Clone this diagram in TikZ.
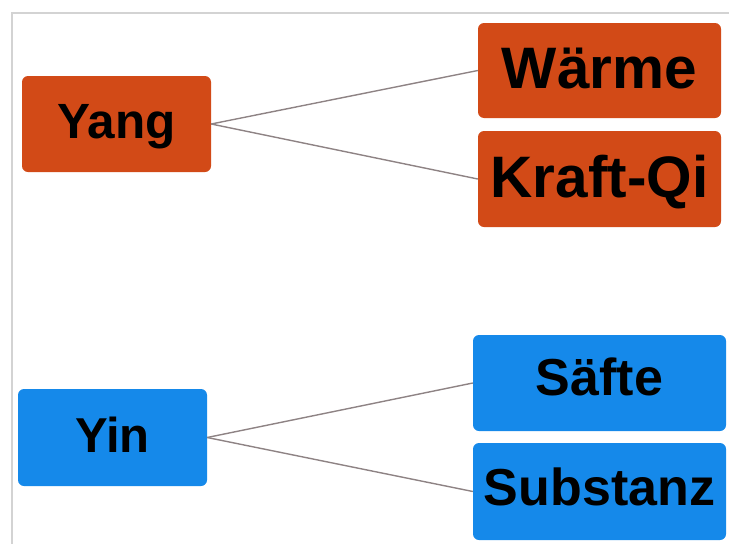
\documentclass[tikz,border=0pt]{standalone}
\usepackage{fontspec}
\setmainfont{Liberation Sans}
\definecolor{yangfill}{HTML}{D24A17}
\definecolor{yinfill}{HTML}{1589EA}
\definecolor{linkgray}{HTML}{8E8384}
\definecolor{framegray}{HTML}{D3D3D3}
\tikzset{
  card/.style={rectangle, rounded corners=6pt, inner sep=0pt, draw=none, text=black},
  yangcard/.style={card, fill=yangfill},
  yincard/.style={card, fill=yinfill},
  link/.style={draw=linkgray, line width=1.4pt},
}
\begin{document}
\begin{tikzpicture}[x=1pt, y=-1pt]
  \useasboundingbox (0,0) rectangle (729,544);
  % frame edges along top and left
  \draw[framegray, line width=1.5pt] (729,13) -- (12,13) -- (12,544);

  % Yang branch
  \node[yangcard, minimum width=189pt, minimum height=96pt,
        text height=34pt, text depth=6pt, font=\fontsize{49.5}{51}\bfseries]
        (yang) at (116.5,124) {Yang};
  \node[yangcard, minimum width=243pt, minimum height=95pt,
        text height=37.5pt, text depth=2.5pt, font=\fontsize{58.5}{60}\bfseries]
        (waerme) at (599.5,70.5) {Wärme};
  \node[yangcard, minimum width=243pt, minimum height=96pt,
        text height=38pt, text depth=2pt, font=\fontsize{58.5}{60}\bfseries]
        (kraft) at (599.5,179) {Kraft-Qi};

  % Yin branch
  \node[yincard, minimum width=189pt, minimum height=97pt,
        text height=34.5pt, text depth=5.5pt, font=\fontsize{49}{51}\bfseries]
        (yin) at (112.5,437.5) {Yin};
  \node[yincard, minimum width=253pt, minimum height=96pt,
        text height=32pt, text depth=8pt, font=\fontsize{52}{54}\bfseries]
        (saefte) at (599.5,383) {Säfte};
  \node[yincard, minimum width=253pt, minimum height=97pt,
        text height=33.5pt, text depth=6.5pt, font=\fontsize{52}{54}\bfseries]
        (substanz) at (599.5,491.5) {Substanz};

  % connectors
  \draw[link] (yang.east) -- (waerme.west);
  \draw[link] (yang.east) -- (kraft.west);
  \draw[link] (yin.east) -- (saefte.west);
  \draw[link] (yin.east) -- (substanz.west);
\end{tikzpicture}
\end{document}
